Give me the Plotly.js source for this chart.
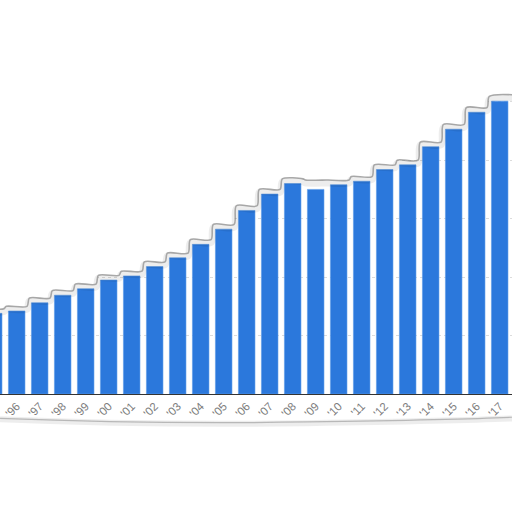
<!DOCTYPE html>
<html>
<head>
<meta charset="utf-8">
<script src="https://cdn.plot.ly/plotly-3.0.1.min.js"></script>
<style>
  html, body { margin: 0; padding: 0; background: #fff; }
  #chart { width: 512px; height: 512px; }
</style>
</head>
<body>
<div id="chart"></div>
<script>
// years shown on the axis ('95 is cut off at the left edge)
const years = ["'95", "'96", "'97", "'98", "'99", "'00", "'01", "'02", "'03", "'04", "'05",
  "'06", "'07", "'08", "'09", "'10", "'11", "'12", "'13", "'14", "'15", "'16", "'17"];

// bar heights (one grid step = 10)
const values = [13.8, 14.2, 15.6, 16.9, 18.0, 19.5, 20.2, 21.8, 23.3, 25.6, 28.2,
  31.4, 34.2, 36.0, 35.0, 35.8, 36.4, 38.4, 39.2, 42.3, 45.3, 48.2, 50.1];

const yTop = 67.4;
const idx = years.map((_, i) => i);

/* ---------- torn paper edge, follows the bar tops ---------- */
const edgeX = [], edgeY = [];
values.forEach((v, i) => {
  const prev = i > 0 ? values[i - 1] : v;
  const next = i < values.length - 1 ? values[i + 1] : v;
  const e = Math.max(v, Math.min(prev, next)) + 0.8;
  edgeX.push(i === 0 ? -1.5 : i - 0.45, i === values.length - 1 ? i + 1.5 : i + 0.45);
  edgeY.push(e, e);
});

const traces = [
  {
    type: "bar",
    x: idx,
    y: values,
    marker: { color: "#2b78dc", line: { color: "#5b9be8", width: 0.6 } },
    hoverinfo: "skip"
  },
  // white paper above the tear, hides the gridlines there
  {
    type: "scatter",
    mode: "lines",
    x: edgeX.concat([edgeX[edgeX.length - 1], edgeX[0]]),
    y: edgeY.concat([yTop, yTop]),
    fill: "toself",
    fillcolor: "#ffffff",
    line: { width: 0, color: "rgba(0,0,0,0)" },
    hoverinfo: "skip"
  },
  // soft shadow along the tear
  {
    type: "scatter",
    mode: "lines",
    x: edgeX,
    y: edgeY.map(e => e - 0.5),
    line: { color: "rgba(0,0,0,0.07)", width: 7, shape: "spline", smoothing: 0.8 },
    hoverinfo: "skip"
  },
  {
    type: "scatter",
    mode: "lines",
    x: edgeX,
    y: edgeY,
    line: { color: "rgba(110,110,110,0.55)", width: 1.6, shape: "spline", smoothing: 0.8 },
    hoverinfo: "skip"
  }
];

const layout = {
  width: 512,
  height: 512,
  margin: { l: 0, r: 0, t: 0, b: 118 },
  paper_bgcolor: "#ffffff",
  plot_bgcolor: "#ffffff",
  showlegend: false,
  bargap: 0.28,
  font: { family: "Liberation Sans, Arial, sans-serif", color: "#7a7a7a" },
  xaxis: {
    range: [0.274, 22.535],
    tickvals: idx,
    ticktext: years,
    tickangle: -45,
    tickfont: { size: 11.5, color: "#7c7c7c" },
    showgrid: false,
    zeroline: false,
    showline: true,
    linecolor: "#333",
    linewidth: 1.2,
    ticks: "",
    fixedrange: true
  },
  yaxis: {
    range: [0, yTop],
    dtick: 10,
    showgrid: true,
    gridcolor: "#dcdcdc",
    griddash: "dot",
    gridwidth: 1,
    zeroline: false,
    showticklabels: false,
    fixedrange: true
  },
  shapes: [
    // lower torn edge under the year labels
    {
      type: "path",
      xref: "paper", yref: "paper",
      path: "M 0,-0.064 Q 0.3,-0.08 0.6,-0.074 T 1,-0.062",
      line: { color: "rgba(0,0,0,0.07)", width: 6 }
    },
    {
      type: "path",
      xref: "paper", yref: "paper",
      path: "M 0,-0.062 Q 0.3,-0.077 0.6,-0.071 T 1,-0.059",
      line: { color: "rgba(120,120,120,0.45)", width: 1.2 }
    }
  ]
};

Plotly.newPlot("chart", traces, layout, { displayModeBar: false, staticPlot: true });
</script>
</body>
</html>
